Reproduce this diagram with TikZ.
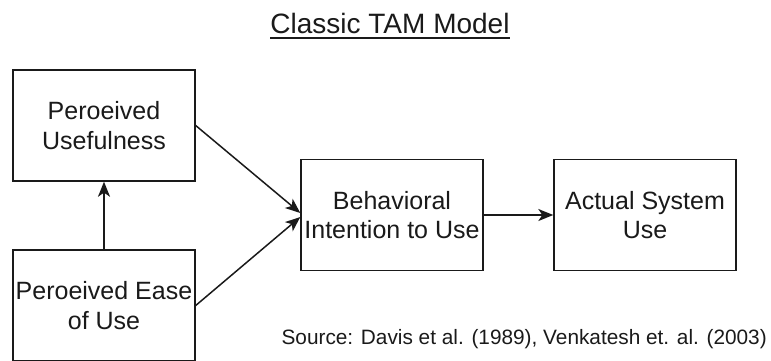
\documentclass[tikz,border=0pt]{standalone}
\usepackage{fontspec}
\setmainfont{Liberation Sans}
\usetikzlibrary{arrows.meta}
\definecolor{ink}{HTML}{1A1A1A}
\begin{document}
\begin{tikzpicture}[x=1pt,y=-1pt,
  block/.style={draw=ink, line width=1.4pt, minimum width=182pt, minimum height=111pt,
    inner sep=0pt, align=center, text=ink, font=\fontsize{25}{29.5}\selectfont},
  link/.style={draw=ink, line width=1.5pt, -{Stealth[length=15pt,width=12pt,inset=4pt]}}]
  \useasboundingbox (0,0) rectangle (771,360);
  \fill[white] (0,0) rectangle (771,360);

  % heading with its underline
  \node (title) [anchor=base, inner sep=0pt, text=ink, font=\fontsize{28}{32}\selectfont]
    at (390,33) {Classic TAM Model};
  \draw[ink, line width=1.6pt] ([yshift=-5pt]title.base west) -- ([yshift=-5pt]title.base east);

  % model constructs
  \node (pu)   [block] at (104,125.5) {Peroeived\\Usefulness};
  \node (peou) [block] at (104,305.5) {Peroeived Ease\\of Use};
  \node (bi)   [block] at (392,215)   {Behavioral\\Intention to Use};
  \node (asu)  [block] at (645,215)   {Actual System\\Use};

  % causal paths
  \draw[link] (peou.north) -- (pu.south);
  \draw[link] (pu.east) -- ([yshift=2pt]bi.west);
  \draw[link] (peou.east) -- ([yshift=-2pt]bi.west);
  \draw[link] (bi.east) -- (asu.west);

  % citation
  \node (src) [anchor=base east, inner sep=0pt, text=ink, font=\fontsize{20.8}{25}\selectfont]
    at (767,344) {Source: Davis et al. (1989), Venkatesh et. al. (2003)};
\end{tikzpicture}
\end{document}
